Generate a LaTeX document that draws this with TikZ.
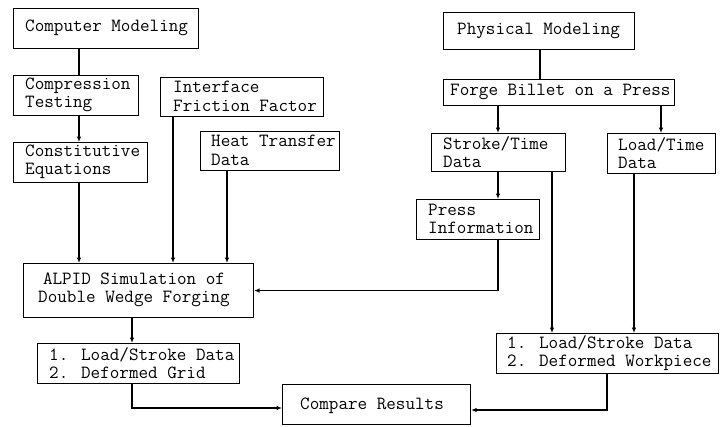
\documentclass[tikz,border=0pt]{standalone}
\usepackage{fontspec}
\usetikzlibrary{arrows.meta}
\begin{document}
\begin{tikzpicture}[x=1pt,y=-1pt,
  box/.style={draw, line width=1.1pt, anchor=north west, inner sep=0pt},
  txt/.style={font=\fontsize{18.6}{18.4}\selectfont\ttfamily, align=left, inner sep=0pt, anchor=west},
  ln/.style={line width=1.1pt},
  arr/.style={line width=1.1pt, -{Latex[length=5.5pt,width=4.5pt]}}]
\useasboundingbox (0,0) rectangle (720,426);
% boxes
\node[box, minimum width=185pt, minimum height=40pt] (cm) at (13,8) {};
\node[txt] (cmt) at (25,28) {Computer Modeling};
\node[box, minimum width=125pt, minimum height=40pt] (ct) at (13,75) {};
\node[txt] (ctt) at (25,95) {Compression\\Testing};
\node[box, minimum width=134pt, minimum height=40pt] (ce) at (13,142) {};
\node[txt] (cet) at (25,162) {Constitutive\\Equations};
\node[box, minimum width=163pt, minimum height=39pt] (iff) at (160,77) {};
\node[txt] (ifft) at (173,96.5) {Interface\\Friction Factor};
\node[box, minimum width=139pt, minimum height=39pt] (ht) at (200,131) {};
\node[txt] (htt) at (211,150.5) {Heat Transfer\\Data};
\node[box, minimum width=230pt, minimum height=54pt] (alpid) at (23,263) {};
\node[txt, align=center, anchor=center] (alpidt) at (134,290) {ALPID Simulation of\\Double Wedge Forging};
\node[box, minimum width=202pt, minimum height=40pt] (ls1) at (37,343) {};
\node[txt] (ls1t) at (49,363) {1. Load/Stroke Data\\2. Deformed Grid};
\node[box, minimum width=188pt, minimum height=40pt] (cr) at (282,384) {};
\node[txt] (crt) at (300,406) {Compare Results};
\node[box, minimum width=191pt, minimum height=37pt] (pm) at (443,12) {};
\node[txt] (pmt) at (457,30.5) {Physical Modeling};
\node[box, minimum width=231pt, minimum height=26pt] (fb) at (443,79) {};
\node[txt] (fbt) at (450,92) {Forge Billet on a Press};
\node[box, minimum width=134pt, minimum height=38pt] (st) at (431,133) {};
\node[txt] (stt) at (443,152) {Stroke/Time\\Data};
\node[box, minimum width=108pt, minimum height=40pt] (lt) at (607,133) {};
\node[txt] (ltt) at (618,153) {Load/Time\\Data};
\node[box, minimum width=123pt, minimum height=40pt] (pi) at (416,199) {};
\node[txt] (pit) at (428,219) {Press\\Information};
\node[box, minimum width=222pt, minimum height=40pt] (ls2) at (496,333) {};
\node[txt] (ls2t) at (507,353) {1. Load/Stroke Data\\2. Deformed Workpiece};
% helper coordinates
\coordinate (xa) at (79,0);
\coordinate (xb) at (173,0);
\coordinate (xc) at (227,0);
\coordinate (xd) at (132,0);
\coordinate (xe) at (498,0);
\coordinate (xf) at (540,0);
\coordinate (xg) at (661,0);
\coordinate (xh) at (552,0);
\coordinate (xi) at (634,0);
\coordinate (xj) at (607,0);
\coordinate (ya) at (0,408);
\coordinate (yb) at (0,410);
% connectors
\draw[ln] (cm.south -| xa) -- (ct.north -| xa);
\draw[arr] (ct.south -| xa) -- (ce.north -| xa);
\draw[arr] (ce.south -| xa) -- (alpid.north -| xa);
\draw[arr] (iff.south -| xb) -- (alpid.north -| xb);
\draw[arr] (ht.south -| xc) -- (alpid.north -| xc);
\draw[arr] (alpid.south -| xd) -- (ls1.north -| xd);
\draw[arr] (ls1.south -| xd) -- (xd |- ya) -- (cr.west |- ya);
\draw[ln] (pm.south -| xf) -- (fb.north -| xf);
\draw[arr] (fb.south -| xe) -- (st.north -| xe);
\draw[arr] (fb.south -| xg) -- (lt.north -| xg);
\draw[arr] (st.south -| xe) -- (pi.north -| xe);
\draw[arr] (pi.south -| xe) -- (xe |- alpid.east) -- (alpid.east);
\draw[arr] (st.south -| xh) -- (ls2.north -| xh);
\draw[arr] (lt.south -| xi) -- (ls2.north -| xi);
\draw[arr] (ls2.south -| xj) -- (xj |- yb) -- (cr.east |- yb);
\end{tikzpicture}
\end{document}
